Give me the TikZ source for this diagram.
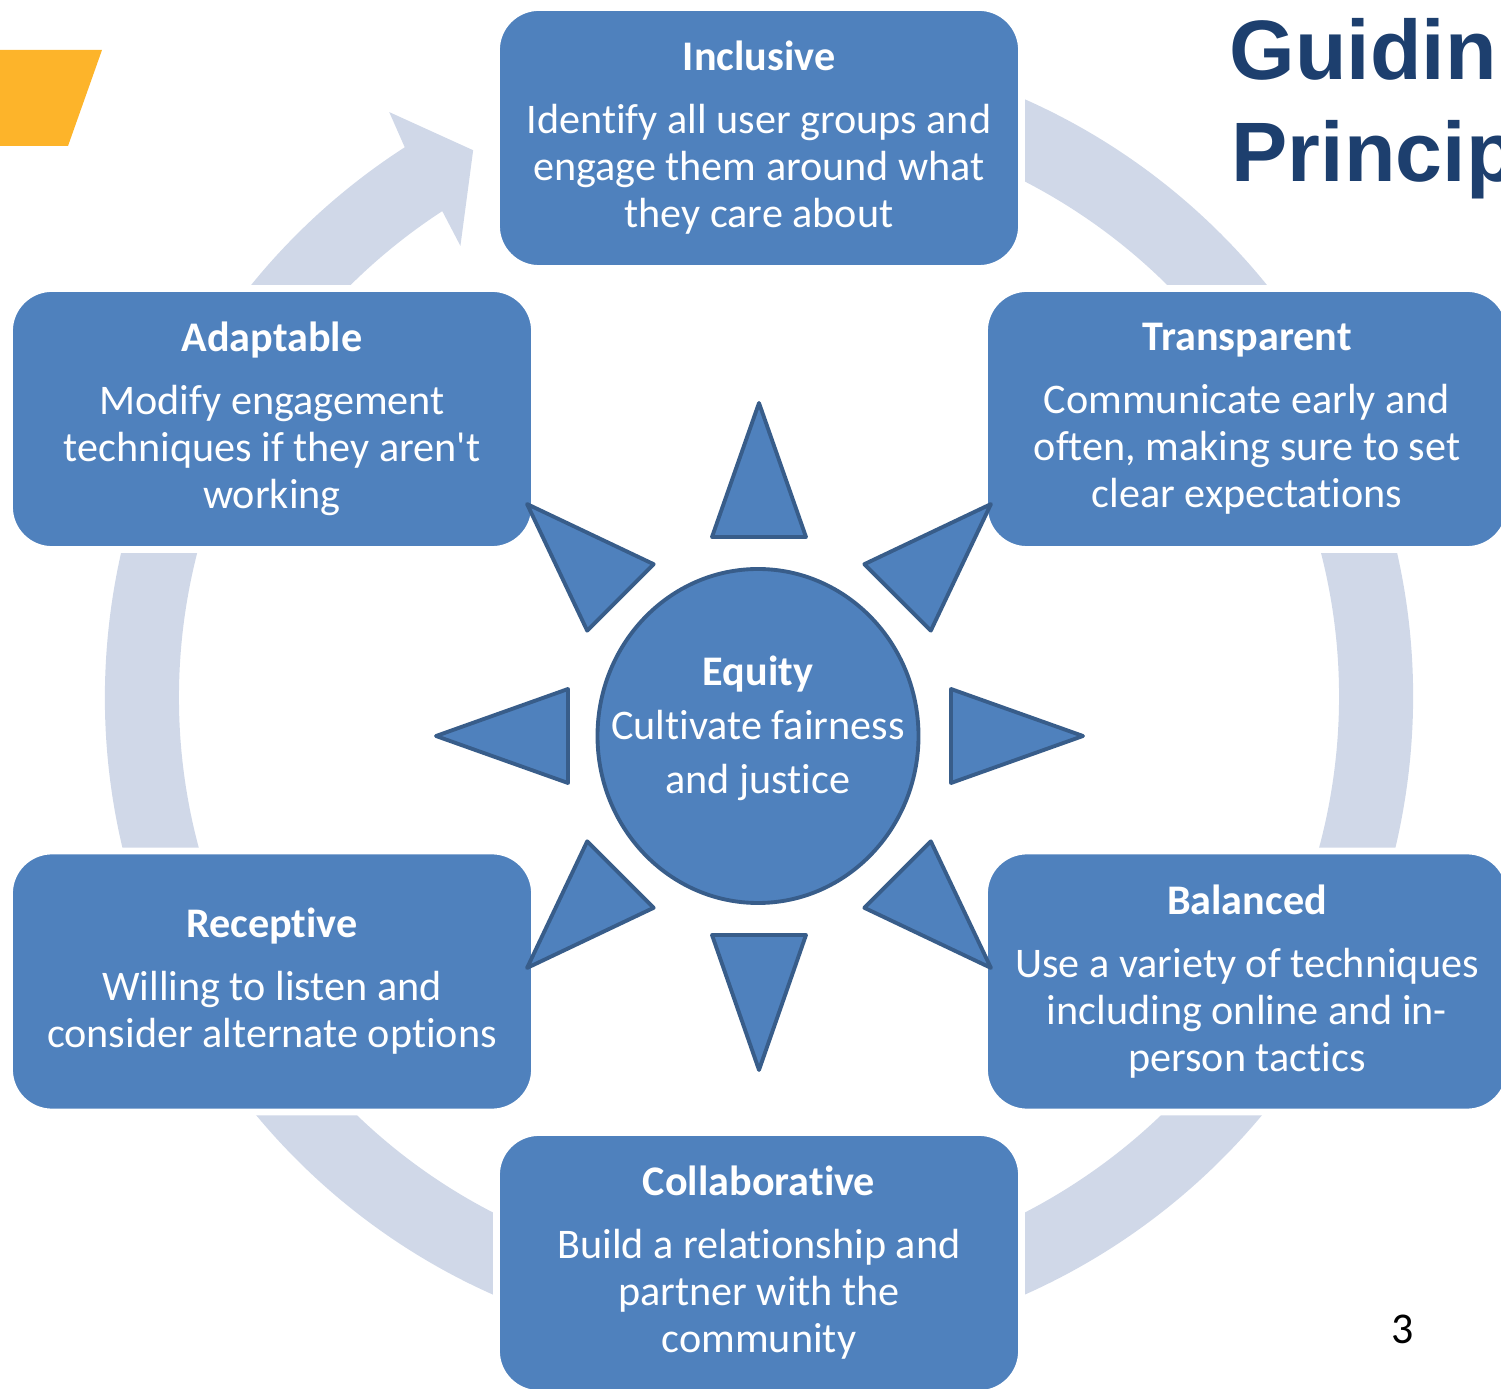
\documentclass[tikz,border=0pt]{standalone}
\usepackage{fontspec}
\setmainfont{Carlito}[Ligatures=NoCommon]
\newfontfamily\headfont{Liberation Sans}
\usetikzlibrary{shapes.geometric}
\definecolor{boxblue}{HTML}{4F81BD}
\definecolor{rimblue}{HTML}{385D8A}
\definecolor{ringgrey}{HTML}{D0D8E8}
\definecolor{navy}{HTML}{1D3F6E}
\definecolor{tabgold}{HTML}{FDB42A}
\tikzset{
  principle/.style={rectangle, rounded corners=0.4cm, minimum width=5.2cm, minimum height=2.56cm,
    fill=boxblue, draw=white, line width=0.5pt, text=white, align=center,
    font=\fontsize{12}{13.4}\selectfont, preaction={draw=white, line width=3.4pt}},
  ray/.style={fill=boxblue, draw=rimblue, line width=1.1pt, line join=round},
  heading/.style={anchor=base west, inner sep=0pt, text=navy, font=\headfont\bfseries\fontsize{24}{28.8}\selectfont},
}
\begin{document}
\begin{tikzpicture}[
    declare function = {
        Ro = 6.54;
        Ri = 5.80;
      },
  ]
  \path[use as bounding box] (0,0) rectangle (15.01,13.88);
  \clip (0,0) rectangle (15.01,13.88);
  \fill[tabgold] (0,13.38) -- (1.02,13.38) -- (0.68,12.42) -- (0,12.42) -- cycle;
  \node[heading] (guide) at (12.29,13.08) {Guidin};
  \node[heading] (princ) at (12.31,12.06) {Princip};
  \begin{scope}[shift={(7.59,6.91)}]
    \fill[ringgrey] (80:Ro) arc[start angle=80, end angle=-237.2, radius=Ro]
      -- (-237.7:6.92) -- (-242.4:6.17) -- (-236.5:5.41) -- (-236.9:Ri)
      arc[start angle=-236.9, end angle=80, radius=Ri] -- cycle;
  \end{scope}
  \node[principle] (incl) at (7.59,12.50) {\textbf{Inclusive}\\[4.5pt]Identify all user groups and\\engage them around what\\they care about};
  \node[principle] (adapt) at (2.72,9.69) {\textbf{Adaptable}\\[4.5pt]Modify engagement\\techniques if they aren\textquotesingle t\\working};
  \node[principle] (transp) at (12.47,9.69) {\textbf{Transparent}\\[4.5pt]Communicate early and\\often, making sure to set\\clear expectations};
  \node[principle] (recep) at (2.72,4.065) {\textbf{Receptive}\\[4.5pt]Willing to listen and\\consider alternate options};
  \node[principle] (balan) at (12.47,4.065) {\textbf{Balanced}\\[4.5pt]Use a variety of techniques\\including online and in-\\person tactics};
  \node[principle] (collab) at (7.59,1.25) {\textbf{Collaborative}\\[4.5pt]Build a relationship and\\partner with the\\community};
  \node[ellipse, inner sep=0pt, minimum width=3.21cm, minimum height=3.34cm, fill=boxblue, draw=rimblue, line width=1.1pt] (eq) at (7.58,6.52) {};
  \node[text=white, align=center, font=\fontsize{12}{15.4}\selectfont] (eqtext) at ([yshift=0.08cm]eq.center) {\textbf{Equity}\\Cultivate fairness\\and justice};
  \foreach \a/\ra/\rb in {90/3.33/1.99, 45/3.28/1.96, 0/3.24/1.92, -45/3.28/1.96, -90/3.34/1.99, -135/3.28/1.96, 180/3.23/1.91, 135/3.28/1.96}
    \draw[ray, shift={(7.59,6.52)}, rotate=\a] (\ra,0) -- (\rb,0.47) -- (\rb,-0.47) -- cycle;
  \node[anchor=base, font=\fontsize{12.5}{15}\selectfont] (page) at (14.03,0.45) {3};
\end{tikzpicture}
\end{document}
